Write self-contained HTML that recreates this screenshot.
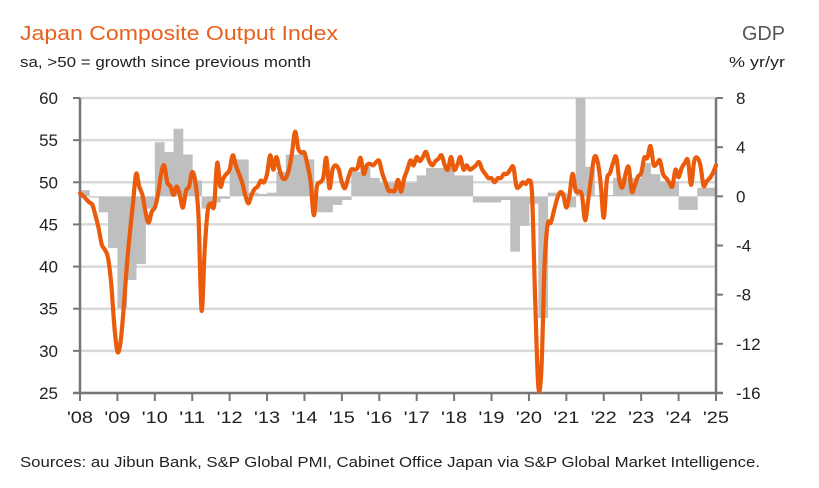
<!DOCTYPE html>
<html><head><meta charset="utf-8"><style>
body{margin:0;background:#fff;width:819px;height:488px;overflow:hidden}
svg{display:block;font-family:"Liberation Sans",sans-serif}
</style></head><body>
<svg id="chart" width="819" height="488" viewBox="0 0 819 488">
<text x="20" y="40" font-size="20" fill="#e8601c" textLength="318" lengthAdjust="spacingAndGlyphs">Japan Composite Output Index</text>
<text x="20" y="67" font-size="15" fill="#222" textLength="291" lengthAdjust="spacingAndGlyphs">sa, &gt;50 = growth since previous month</text>
<text x="785" y="40" font-size="20" fill="#555" text-anchor="end" textLength="43" lengthAdjust="spacingAndGlyphs">GDP</text>
<text x="785" y="67" font-size="15" fill="#222" text-anchor="end" textLength="56" lengthAdjust="spacingAndGlyphs">% yr/yr</text>
<g id="grid"></g><g id="bars"></g><g id="axes"></g><g id="line"></g>
<text x="20" y="467" font-size="15" fill="#222" textLength="740" lengthAdjust="spacingAndGlyphs">Sources: au Jibun Bank, S&amp;P Global PMI, Cabinet Office Japan via S&amp;P Global Market Intelligence.</text>
</svg>
<script>
const leftTicks=[60,55,50,45,40,35,30,25];
const rightTicks=[8,4,0,-4,-8,-12,-16];
const yearLabels=["'08","'09","'10","'11","'12","'13","'14","'15","'16","'17","'18","'19","'20","'21","'22","'23","'24","'25"];
const pmi=[48.7,48.4,48,47.6,47.3,46,44.5,42.6,42,41,38,33,29.9,31,35,40,44,47.5,51,49.5,48.5,46.5,45.2,46.5,
47,48.5,51,52,50,49.5,48.5,49.5,48.5,47,49,49.5,51.2,50,46,34.8,42,46.7,47.5,47.2,52.3,49.5,50.5,51,
51.5,53.2,52,51,50,48.5,47.5,48.5,49.2,49.5,50.2,50,51,53.2,51.5,53,51.5,50.5,50.5,51.5,53.5,56,54,53.5,
53.5,52,50,46.1,49.5,50,50.5,52.9,49.3,51.5,52,51.5,50,49.3,50.5,51.5,51.5,51.7,52.9,51,52,52.2,52,52.4,
52.5,51,50,49,49,49,50.3,48.9,50.5,51.5,52.6,52,53,52.5,53,53.6,52.5,52,52.5,52.8,53.2,52,51.5,53,
51.5,52,53,51.5,52,51.5,51.7,52,52.4,51.5,51,50.5,50.5,50,50.5,50.5,51,51,51.5,51.8,49.5,49.5,50,49.8,
50.2,48.5,36,25.8,27.8,40,45,45.2,46.6,48,48.8,48.5,47,48.5,51,49,48.9,48.5,45.5,47.9,50.7,53,52.5,49.9,
45.8,50.3,51.1,52.3,53,50.2,49.4,51,51.8,48.9,49.7,50.7,51.1,52.9,52.9,54.3,52.1,52.2,52.6,51,50.5,50,49.5,51.5,
50.6,51.7,52.3,52.6,49.7,52.5,52.9,52,49.6,50.1,50.5,51.1,52];
const gdp=[0.5,-0.1,-1.3,-4.2,-9.1,-6.8,-5.5,-1.0,4.4,3.6,5.5,3.4,1.3,-1.0,-0.5,-0.2,
3.0,3.0,0.3,0.2,0.3,2.0,3.4,3.4,3.0,-1.3,-1.3,-0.7,-0.3,2.0,2.4,1.5,
1.1,1.1,1.1,1.1,1.7,2.3,2.3,2.3,1.7,1.7,-0.5,-0.5,-0.5,-0.3,-4.5,-2.4,
-0.6,-9.9,0.3,0.3,-0.9,8.1,2.4,0.1,0.1,1.5,1.5,1.5,2.7,1.8,1.2,1.2,-1.1,-1.1,0.7,0.7];

const NS='http://www.w3.org/2000/svg';
const X0=80,X1=716,YT=98,YB=393;
const yL=v=>YT+(60-v)*(YB-YT)/35;
const yR=v=>YT+(8-v)*(YB-YT)/24;
const xYear=i=>X0+i*(X1-X0)/17;
const xMonth=m=>X0+m*(X1-X0)/204;
const xQ=q=>X0+q*(X1-X0)/68;
function mk(tag,attrs,parent){const e=document.createElementNS(NS,tag);for(const k in attrs)e.setAttribute(k,attrs[k]);parent.appendChild(e);return e;}
const grid=document.getElementById('grid'),bars=document.getElementById('bars'),axes=document.getElementById('axes'),line=document.getElementById('line');
leftTicks.forEach(v=>{
  const g=mk('line',{x1:X0,x2:X1,y1:yL(v),y2:yL(v),stroke:'#d9d9d9','stroke-width':2.5},grid);
  
  
  const t=mk('text',{x:58,y:yL(v)+6,'font-size':17,fill:'#222','text-anchor':'end'},axes);
  t.textContent=v;
  
  
  mk('line',{x1:X0-7,x2:X0,y1:yL(v),y2:yL(v),stroke:'#777','stroke-width':2},axes);
});
rightTicks.forEach(v=>{
  const t=mk('text',{x:736,y:yR(v)+6,'font-size':17,fill:'#222'},axes);
  t.textContent=v;
  
  
  mk('line',{x1:X1,x2:X1+7,y1:yR(v),y2:yR(v),stroke:'#777','stroke-width':2},axes);
});
gdp.forEach((v,q)=>{
  const y0=yR(0),y1=Math.max(yR(v),YT);
  const r=mk('rect',{x:xQ(q),width:(X1-X0)/68+0.4,y:Math.min(y0,y1),height:Math.max(Math.abs(y0-y1),1),fill:'#bfbfbf'},bars);
  
  
});
const la=mk('line',{x1:X0,x2:X0,y1:YT,y2:YB,stroke:'#777','stroke-width':2.5},axes);


const ra=mk('line',{x1:X1,x2:X1,y1:YT,y2:YB,stroke:'#777','stroke-width':2.5},axes);


const xa=mk('line',{x1:X0-7,x2:X1+7,y1:YB,y2:YB,stroke:'#777','stroke-width':2.5},axes);


yearLabels.forEach((l,i)=>{
  mk('line',{x1:xYear(i),x2:xYear(i),y1:YB,y2:YB+8,stroke:'#777','stroke-width':2},axes);
  const t=mk('text',{x:xYear(i),y:YB+30,'font-size':17,fill:'#222','text-anchor':'middle',textLength:26,lengthAdjust:'spacingAndGlyphs'},axes);
  t.textContent=l;
  
  
});
const pts=pmi.map((v,m)=>[xMonth(m),yL(v)]);
let d='M'+pts[0][0].toFixed(1)+','+pts[0][1].toFixed(1);
for(let i=0;i<pts.length-1;i++){
  const p0=pts[Math.max(i-1,0)],p1=pts[i],p2=pts[i+1],p3=pts[Math.min(i+2,pts.length-1)];
  const c1=[p1[0]+(p2[0]-p0[0])/6,p1[1]+(p2[1]-p0[1])/6];
  const c2=[p2[0]-(p3[0]-p1[0])/6,p2[1]-(p3[1]-p1[1])/6];
  d+='C'+c1.map(n=>n.toFixed(1)).join(',')+' '+c2.map(n=>n.toFixed(1)).join(',')+' '+p2.map(n=>n.toFixed(1)).join(',');
}
const p=mk('path',{d:d,fill:'none',stroke:'#ea5b0c','stroke-width':4.2,'stroke-linejoin':'round','stroke-linecap':'round'},line);


</script>
</body></html>
